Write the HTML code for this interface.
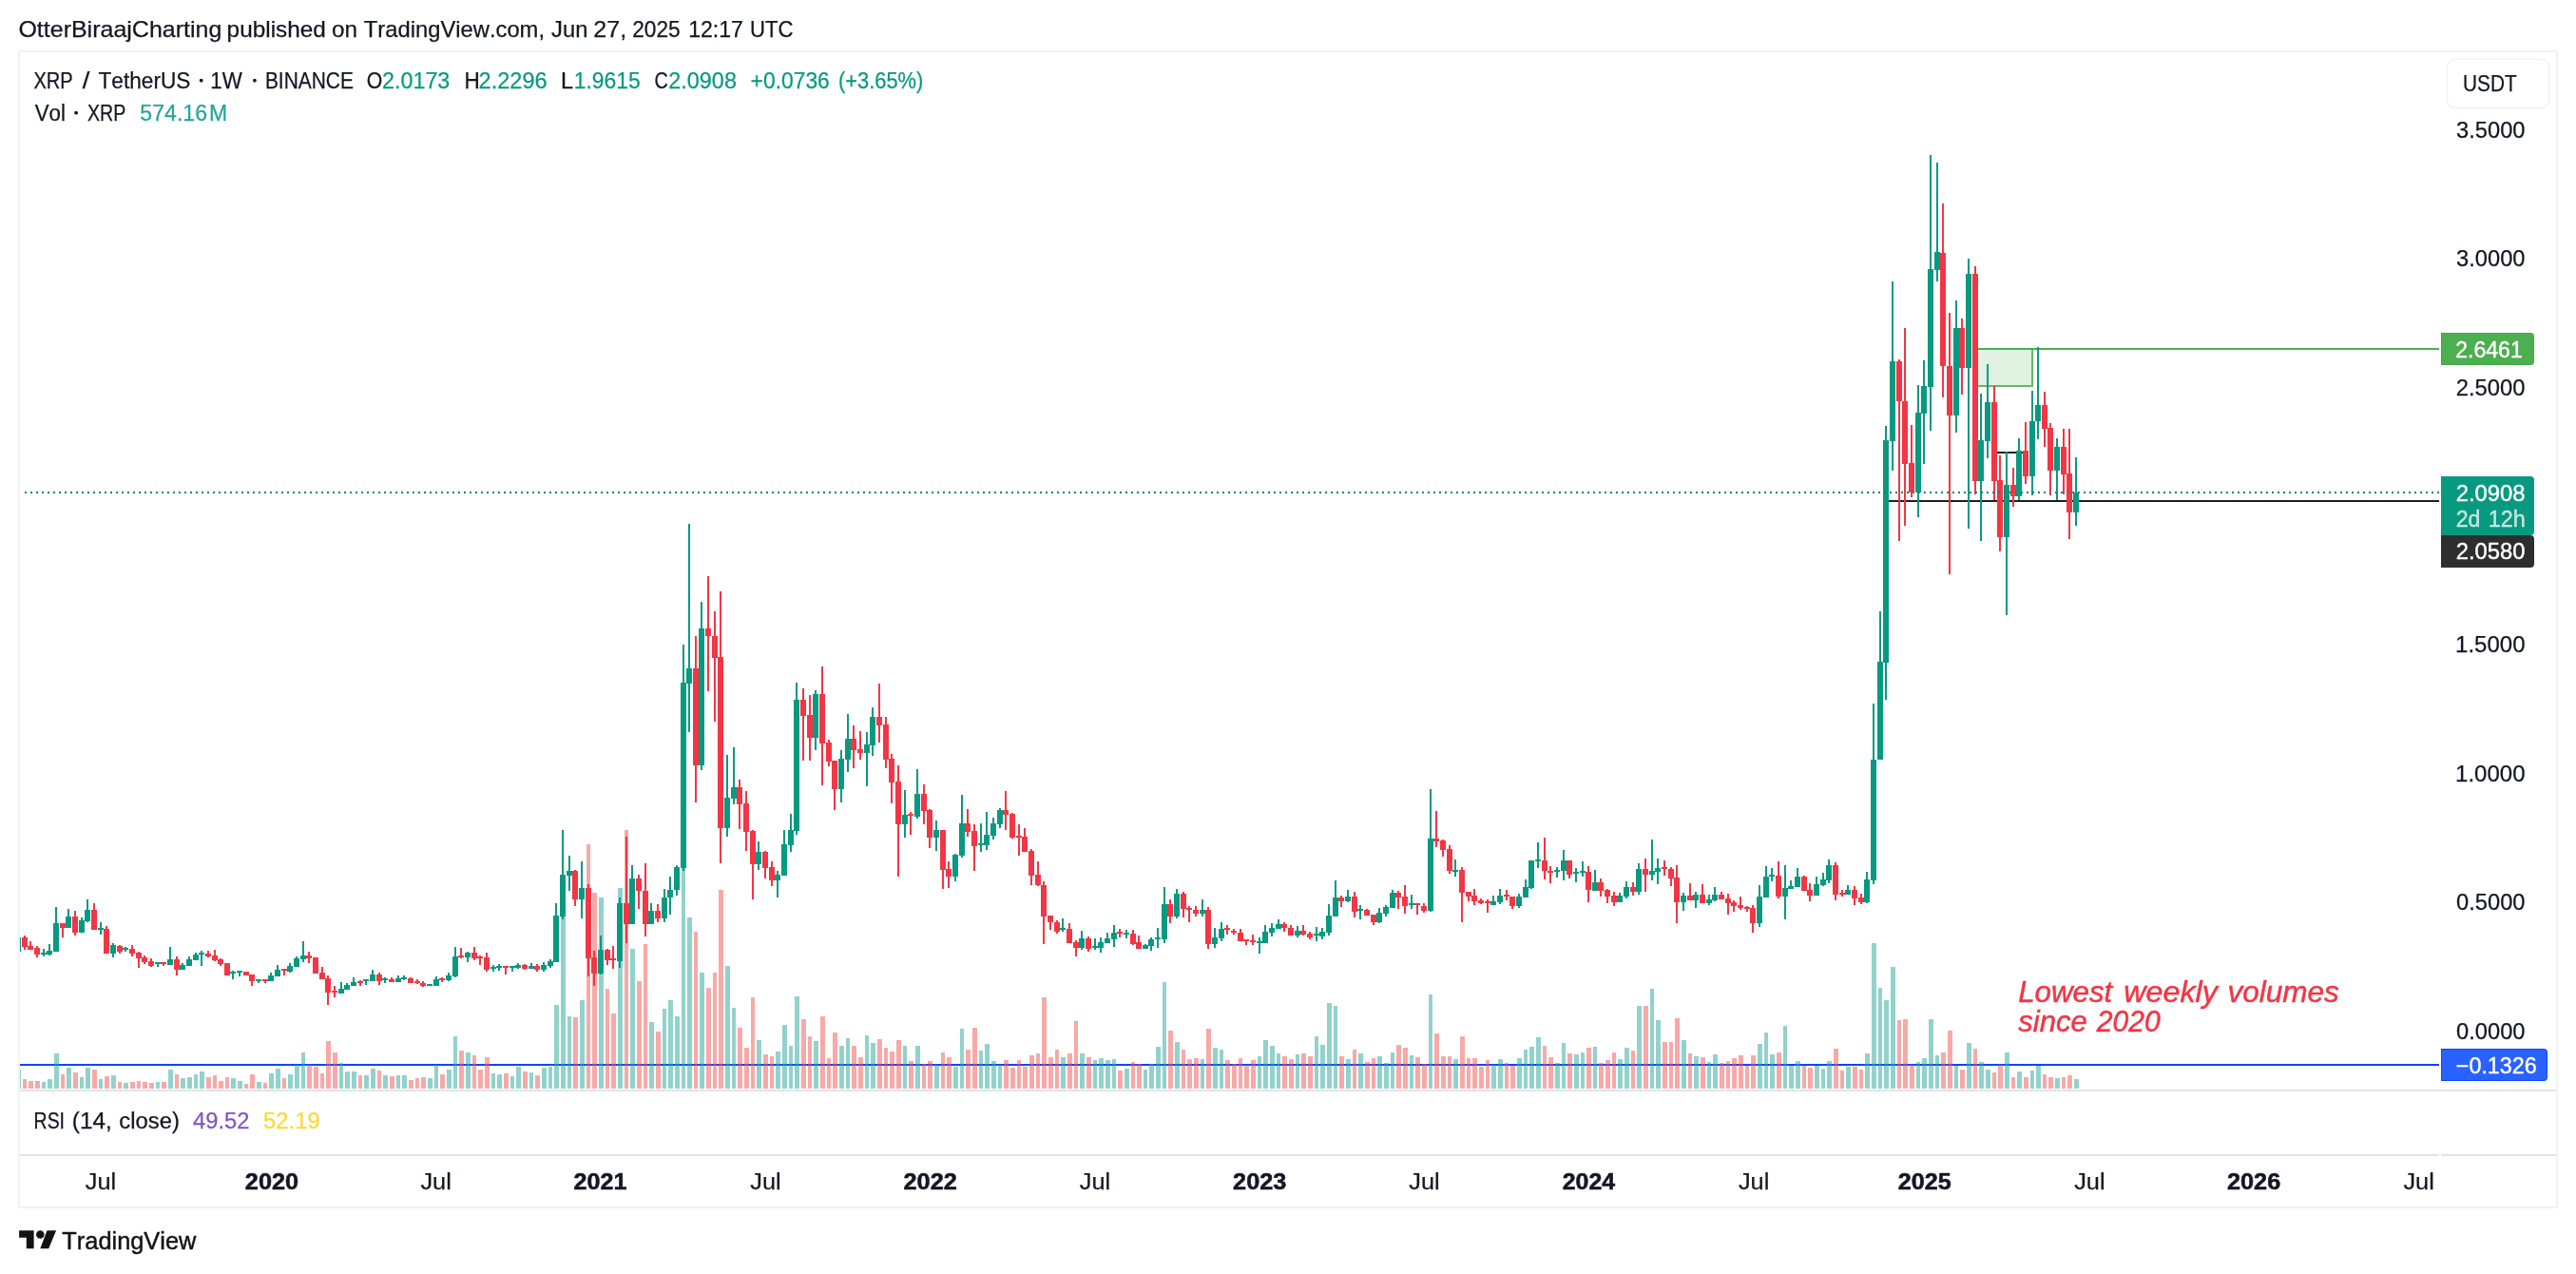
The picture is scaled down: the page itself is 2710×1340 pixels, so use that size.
<!DOCTYPE html><html><head><meta charset="utf-8"><title>XRP / TetherUS 1W</title>
<style>html,body{margin:0;padding:0;background:#fff}body{width:2710px;height:1340px;overflow:hidden;position:relative;font-family:"Liberation Sans", sans-serif}svg{position:absolute;left:0;top:0;display:block}text{font-family:"Liberation Sans", sans-serif;font-kerning:none}</style></head><body>
<svg width="2710" height="1340" viewBox="0 0 2710 1340">
<rect x="0" y="0" width="2710" height="1340" fill="#fff"/>
<g shape-rendering="crispEdges">
<clipPath id="pane"><rect x="21" y="55" width="2545" height="1091"/></clipPath>
<g clip-path="url(#pane)">
<path fill="#0a46ff" d="M21 1119H2566v2H21z"/>
<path fill="rgba(38,166,154,0.5)" d="M17 1125h5V1145h-5zM44 1138h4V1145h-4zM50 1135h5V1145h-5zM57 1108h5V1145h-5zM70 1123h5V1145h-5zM84 1133h4V1145h-4zM90 1123h5V1145h-5zM104 1135h4V1145h-4zM117 1131h5V1145h-5zM130 1139h5V1145h-5zM164 1138h4V1145h-4zM177 1125h5V1145h-5zM190 1134h5V1145h-5zM197 1133h5V1145h-5zM204 1130h4V1145h-4zM210 1127h5V1145h-5zM243 1134h5V1145h-5zM250 1137h5V1145h-5zM270 1138h5V1145h-5zM283 1129h5V1145h-5zM290 1124h5V1145h-5zM303 1130h5V1145h-5zM310 1120h5V1145h-5zM317 1107h4V1145h-4zM357 1118h4V1145h-4zM363 1127h5V1145h-5zM370 1127h5V1145h-5zM383 1131h5V1145h-5zM390 1124h5V1145h-5zM403 1131h5V1145h-5zM417 1131h4V1145h-4zM423 1131h5V1145h-5zM450 1134h5V1145h-5zM457 1120h4V1145h-4zM470 1125h5V1145h-5zM477 1090h4V1145h-4zM490 1107h5V1145h-5zM517 1129h4V1145h-4zM523 1130h5V1145h-5zM537 1132h4V1145h-4zM543 1122h5V1145h-5zM557 1128h4V1145h-4zM570 1123h5V1145h-5zM577 1122h4V1145h-4zM583 1057h5V1145h-5zM590 930h5V1145h-5zM597 1069h4V1145h-4zM610 1052h5V1145h-5zM630 944h5V1145h-5zM650 934h5V1145h-5zM663 998h5V1145h-5zM683 1075h5V1145h-5zM697 1061h4V1145h-4zM703 1052h5V1145h-5zM710 1069h5V1145h-5zM717 880h4V1145h-4zM723 965h5V1145h-5zM736 1023h5V1145h-5zM763 1016h5V1145h-5zM770 1060h4V1145h-4zM796 1094h5V1145h-5zM816 1106h5V1145h-5zM823 1078h5V1145h-5zM830 1100h4V1145h-4zM836 1048h5V1145h-5zM856 1095h5V1145h-5zM883 1100h5V1145h-5zM890 1092h4V1145h-4zM910 1089h4V1145h-4zM916 1097h5V1145h-5zM950 1100h4V1145h-4zM963 1100h5V1145h-5zM983 1120h5V1145h-5zM1003 1122h5V1145h-5zM1010 1082h4V1145h-4zM1030 1105h4V1145h-4zM1036 1098h5V1145h-5zM1043 1116h5V1145h-5zM1050 1120h4V1145h-4zM1116 1112h5V1145h-5zM1136 1108h5V1145h-5zM1150 1115h4V1145h-4zM1156 1113h5V1145h-5zM1163 1115h5V1145h-5zM1170 1114h4V1145h-4zM1183 1124h5V1145h-5zM1203 1125h4V1145h-4zM1209 1119h5V1145h-5zM1216 1101h5V1145h-5zM1223 1033h4V1145h-4zM1236 1096h5V1145h-5zM1263 1114h4V1145h-4zM1276 1102h5V1145h-5zM1283 1104h4V1145h-4zM1323 1111h4V1145h-4zM1329 1094h5V1145h-5zM1336 1100h5V1145h-5zM1343 1108h4V1145h-4zM1363 1109h4V1145h-4zM1383 1090h4V1145h-4zM1389 1099h5V1145h-5zM1396 1055h5V1145h-5zM1403 1058h4V1145h-4zM1416 1114h5V1145h-5zM1429 1108h5V1145h-5zM1449 1111h5V1145h-5zM1456 1118h5V1145h-5zM1463 1107h4V1145h-4zM1483 1110h4V1145h-4zM1503 1046h4V1145h-4zM1529 1114h5V1145h-5zM1569 1120h5V1145h-5zM1576 1114h5V1145h-5zM1596 1113h5V1145h-5zM1603 1104h4V1145h-4zM1609 1101h5V1145h-5zM1616 1091h5V1145h-5zM1636 1118h5V1145h-5zM1643 1097h4V1145h-4zM1656 1109h5V1145h-5zM1663 1107h4V1145h-4zM1676 1101h4V1145h-4zM1702 1114h5V1145h-5zM1709 1102h5V1145h-5zM1722 1058h5V1145h-5zM1736 1040h4V1145h-4zM1742 1073h5V1145h-5zM1769 1094h5V1145h-5zM1782 1111h5V1145h-5zM1796 1117h4V1145h-4zM1802 1109h5V1145h-5zM1849 1098h5V1145h-5zM1856 1086h4V1145h-4zM1862 1109h5V1145h-5zM1876 1079h4V1145h-4zM1882 1121h5V1145h-5zM1889 1116h5V1145h-5zM1909 1121h5V1145h-5zM1916 1124h4V1145h-4zM1922 1116h5V1145h-5zM1942 1122h5V1145h-5zM1962 1108h5V1145h-5zM1969 992h5V1145h-5zM1976 1039h4V1145h-4zM1982 1052h5V1145h-5zM1989 1017h5V1145h-5zM2016 1117h4V1145h-4zM2022 1113h5V1145h-5zM2029 1072h5V1145h-5zM2036 1110h4V1145h-4zM2056 1121h4V1145h-4zM2069 1097h5V1145h-5zM2082 1117h5V1145h-5zM2089 1125h5V1145h-5zM2109 1107h5V1145h-5zM2122 1127h5V1145h-5zM2136 1126h4V1145h-4zM2142 1121h5V1145h-5zM2162 1134h5V1145h-5zM2182 1135h5V1145h-5z"/>
<path fill="rgba(239,83,80,0.5)" d="M24 1135h4V1145h-4zM30 1137h5V1145h-5zM37 1137h5V1145h-5zM64 1130h4V1145h-4zM77 1128h5V1145h-5zM97 1125h5V1145h-5zM110 1132h5V1145h-5zM124 1138h4V1145h-4zM137 1138h5V1145h-5zM144 1137h4V1145h-4zM150 1138h5V1145h-5zM157 1139h5V1145h-5zM170 1138h5V1145h-5zM184 1130h4V1145h-4zM217 1133h5V1145h-5zM224 1131h4V1145h-4zM230 1137h5V1145h-5zM237 1133h4V1145h-4zM257 1140h4V1145h-4zM263 1130h5V1145h-5zM277 1139h4V1145h-4zM297 1134h4V1145h-4zM323 1120h5V1145h-5zM330 1122h5V1145h-5zM337 1129h4V1145h-4zM343 1095h5V1145h-5zM350 1107h5V1145h-5zM377 1131h4V1145h-4zM397 1126h4V1145h-4zM410 1132h5V1145h-5zM430 1136h5V1145h-5zM437 1134h4V1145h-4zM443 1133h5V1145h-5zM463 1130h5V1145h-5zM483 1105h5V1145h-5zM497 1110h4V1145h-4zM503 1125h5V1145h-5zM510 1112h5V1145h-5zM530 1129h5V1145h-5zM550 1127h5V1145h-5zM563 1131h5V1145h-5zM603 1070h5V1145h-5zM617 888h4V1145h-4zM623 939h5V1145h-5zM637 1040h4V1145h-4zM643 1066h5V1145h-5zM657 873h4V1145h-4zM670 1032h5V1145h-5zM677 993h4V1145h-4zM690 1085h5V1145h-5zM730 980h4V1145h-4zM743 1039h5V1145h-5zM750 1023h4V1145h-4zM756 936h5V1145h-5zM776 1081h5V1145h-5zM783 1102h5V1145h-5zM790 1049h4V1145h-4zM803 1109h5V1145h-5zM810 1111h4V1145h-4zM843 1072h5V1145h-5zM850 1090h4V1145h-4zM863 1069h5V1145h-5zM870 1113h4V1145h-4zM876 1086h5V1145h-5zM896 1100h5V1145h-5zM903 1112h5V1145h-5zM923 1093h5V1145h-5zM930 1102h4V1145h-4zM936 1106h5V1145h-5zM943 1094h5V1145h-5zM956 1116h5V1145h-5zM970 1119h4V1145h-4zM976 1116h5V1145h-5zM990 1107h4V1145h-4zM996 1112h5V1145h-5zM1016 1104h5V1145h-5zM1023 1081h5V1145h-5zM1056 1115h5V1145h-5zM1063 1123h5V1145h-5zM1070 1115h4V1145h-4zM1076 1122h5V1145h-5zM1083 1110h5V1145h-5zM1090 1108h4V1145h-4zM1096 1049h5V1145h-5zM1103 1112h5V1145h-5zM1110 1104h4V1145h-4zM1123 1108h5V1145h-5zM1130 1074h4V1145h-4zM1143 1112h5V1145h-5zM1176 1126h5V1145h-5zM1190 1117h4V1145h-4zM1196 1119h5V1145h-5zM1229 1084h5V1145h-5zM1243 1104h4V1145h-4zM1249 1114h5V1145h-5zM1256 1113h5V1145h-5zM1269 1082h5V1145h-5zM1289 1115h5V1145h-5zM1296 1119h5V1145h-5zM1303 1113h4V1145h-4zM1309 1120h5V1145h-5zM1316 1115h5V1145h-5zM1349 1111h5V1145h-5zM1356 1114h5V1145h-5zM1369 1108h5V1145h-5zM1376 1111h5V1145h-5zM1409 1111h5V1145h-5zM1423 1104h4V1145h-4zM1436 1117h5V1145h-5zM1443 1113h4V1145h-4zM1469 1099h5V1145h-5zM1476 1102h5V1145h-5zM1489 1112h5V1145h-5zM1496 1119h5V1145h-5zM1509 1087h5V1145h-5zM1516 1111h5V1145h-5zM1523 1111h4V1145h-4zM1536 1090h5V1145h-5zM1543 1113h4V1145h-4zM1549 1113h5V1145h-5zM1556 1122h5V1145h-5zM1563 1115h4V1145h-4zM1583 1118h4V1145h-4zM1589 1121h5V1145h-5zM1623 1100h4V1145h-4zM1629 1112h5V1145h-5zM1649 1108h5V1145h-5zM1669 1102h5V1145h-5zM1682 1118h5V1145h-5zM1689 1115h5V1145h-5zM1696 1107h4V1145h-4zM1716 1105h4V1145h-4zM1729 1058h5V1145h-5zM1749 1096h5V1145h-5zM1756 1096h4V1145h-4zM1762 1071h5V1145h-5zM1776 1108h4V1145h-4zM1789 1112h5V1145h-5zM1809 1118h5V1145h-5zM1816 1116h4V1145h-4zM1822 1113h5V1145h-5zM1829 1110h5V1145h-5zM1836 1121h4V1145h-4zM1842 1110h5V1145h-5zM1869 1107h5V1145h-5zM1896 1121h4V1145h-4zM1902 1123h5V1145h-5zM1929 1103h5V1145h-5zM1936 1126h4V1145h-4zM1949 1122h5V1145h-5zM1956 1125h4V1145h-4zM1996 1073h4V1145h-4zM2002 1072h5V1145h-5zM2009 1120h5V1145h-5zM2042 1107h5V1145h-5zM2049 1084h5V1145h-5zM2062 1125h5V1145h-5zM2076 1103h4V1145h-4zM2096 1128h4V1145h-4zM2102 1120h5V1145h-5zM2116 1133h4V1145h-4zM2129 1133h5V1145h-5zM2149 1130h4V1145h-4zM2155 1133h5V1145h-5zM2169 1133h4V1145h-4zM2175 1131h5V1145h-5z"/>
<rect x="2081" y="367" width="58" height="40" fill="#e1f1e2"/>
<path fill="#4caf50" d="M2081 366H2566v2H2081z"/>
<path fill="#62b966" d="M2081 405h58v2h-58z"/>
<path fill="#62b966" d="M2137 368h2v39h-2z"/>
<path fill="#1e1e1e" d="M1987 526H2566v2H1987z"/>
<path fill="#1e1e1e" d="M2101 475h27v2h-27z"/>
<path fill="#089981" d="M18 986h2V1001h-2zM16 986h6V1001h-6zM45 998h2V1006h-2zM43 1002h6V1004h-6zM51 993h2V1005h-2zM49 1000h6V1004h-6zM58 954h2V1001h-2zM56 971h6V1001h-6zM71 956h2V976h-2zM69 964h6V976h-6zM85 965h2V981h-2zM83 968h6V981h-6zM91 946h2V970h-2zM89 957h6V969h-6zM105 970h2V983h-2zM103 976h6V978h-6zM118 992h2V1007h-2zM116 994h6V1003h-6zM131 996h2V1001h-2zM129 997h6V999h-6zM165 1012h2V1017h-2zM163 1012h6V1014h-6zM178 996h2V1015h-2zM176 1009h6V1015h-6zM191 1013h2V1020h-2zM189 1015h6V1020h-6zM198 1006h2V1016h-2zM196 1009h6V1016h-6zM205 1002h2V1010h-2zM203 1004h6V1010h-6zM211 1000h2V1016h-2zM209 1002h6V1004h-6zM244 1021h2V1030h-2zM242 1022h6V1024h-6zM251 1021h2V1027h-2zM249 1021h6V1023h-6zM271 1030h2V1034h-2zM269 1030h6V1032h-6zM284 1023h2V1032h-2zM282 1026h6V1032h-6zM291 1015h2V1027h-2zM289 1020h6V1027h-6zM304 1013h2V1023h-2zM302 1016h6V1022h-6zM311 1006h2V1017h-2zM309 1008h6V1017h-6zM318 990h2V1012h-2zM316 1005h6V1009h-6zM358 1033h2V1045h-2zM356 1040h6V1045h-6zM364 1034h2V1041h-2zM362 1036h6V1041h-6zM371 1028h2V1037h-2zM369 1033h6V1037h-6zM384 1030h2V1036h-2zM382 1030h6V1032h-6zM391 1020h2V1032h-2zM389 1025h6V1032h-6zM404 1028h2V1034h-2zM402 1029h6V1031h-6zM418 1026h2V1033h-2zM416 1029h6V1033h-6zM424 1026h2V1031h-2zM422 1028h6V1030h-6zM451 1035h2V1037h-2zM449 1035h6V1037h-6zM458 1027h2V1037h-2zM456 1030h6V1037h-6zM471 1023h2V1032h-2zM469 1026h6V1031h-6zM478 996h2V1028h-2zM476 1006h6V1027h-6zM491 1001h2V1012h-2zM489 1002h6V1007h-6zM518 1015h2V1022h-2zM516 1017h6V1019h-6zM524 1014h2V1021h-2zM522 1016h6V1018h-6zM538 1016h2V1022h-2zM536 1016h6V1018h-6zM544 1013h2V1019h-2zM542 1015h6V1018h-6zM558 1013h2V1019h-2zM556 1016h6V1019h-6zM571 1012h2V1022h-2zM569 1015h6V1020h-6zM578 1009h2V1018h-2zM576 1011h6V1016h-6zM584 950h2V1012h-2zM582 963h6V1012h-6zM591 873h2V967h-2zM589 920h6V964h-6zM598 900h2V937h-2zM596 916h6V921h-6zM611 906h2V966h-2zM609 934h6V946h-6zM631 984h2V1025h-2zM629 999h6V1024h-6zM651 944h2V1018h-2zM649 950h6V1011h-6zM664 910h2V972h-2zM662 924h6V972h-6zM684 950h2V972h-2zM682 958h6V972h-6zM698 935h2V970h-2zM696 944h6V966h-6zM704 922h2V962h-2zM702 936h6V944h-6zM711 910h2V942h-2zM709 912h6V936h-6zM718 678h2V916h-2zM716 718h6V913h-6zM724 551h2V770h-2zM722 703h6V719h-6zM737 633h2V810h-2zM735 661h6V805h-6zM764 794h2V880h-2zM762 839h6V871h-6zM771 786h2V846h-2zM769 828h6V840h-6zM797 885h2V915h-2zM795 896h6V909h-6zM817 916h2V944h-2zM815 920h6V926h-6zM824 873h2V921h-2zM822 888h6V921h-6zM831 856h2V896h-2zM829 873h6V889h-6zM837 718h2V878h-2zM835 736h6V874h-6zM857 726h2V789h-2zM855 730h6V776h-6zM884 789h2V844h-2zM882 798h6V830h-6zM891 751h2V812h-2zM889 777h6V799h-6zM911 770h2V827h-2zM909 783h6V792h-6zM917 744h2V795h-2zM915 754h6V784h-6zM951 831h2V881h-2zM949 857h6V867h-6zM964 809h2V861h-2zM962 835h6V859h-6zM984 863h2V895h-2zM982 873h6V881h-6zM1004 898h2V927h-2zM1002 899h6V922h-6zM1011 836h2V902h-2zM1009 866h6V900h-6zM1031 866h2V896h-2zM1029 887h6V889h-6zM1037 854h2V894h-2zM1035 878h6V889h-6zM1044 860h2V883h-2zM1042 866h6V879h-6zM1051 850h2V871h-2zM1049 852h6V867h-6zM1117 966h2V980h-2zM1115 976h6V978h-6zM1137 979h2V999h-2zM1135 987h6V997h-6zM1151 987h2V999h-2zM1149 995h6V997h-6zM1157 986h2V1002h-2zM1155 991h6V997h-6zM1164 981h2V992h-2zM1162 987h6V992h-6zM1171 973h2V996h-2zM1169 981h6V988h-6zM1184 978h2V987h-2zM1182 981h6V983h-6zM1204 993h2V998h-2zM1202 994h6V998h-6zM1210 986h2V1000h-2zM1208 988h6V995h-6zM1217 976h2V997h-2zM1215 986h6V988h-6zM1224 933h2V992h-2zM1222 951h6V988h-6zM1237 935h2V966h-2zM1235 940h6V964h-6zM1264 946h2V964h-2zM1262 957h6V961h-6zM1277 976h2V997h-2zM1275 986h6V993h-6zM1284 970h2V990h-2zM1282 977h6V987h-6zM1324 986h2V1003h-2zM1322 990h6V992h-6zM1330 973h2V992h-2zM1328 980h6V992h-6zM1337 971h2V985h-2zM1335 976h6V981h-6zM1344 967h2V977h-2zM1342 972h6V977h-6zM1364 974h2V986h-2zM1362 979h6V984h-6zM1384 975h2V990h-2zM1382 982h6V984h-6zM1390 976h2V988h-2zM1388 980h6V985h-6zM1397 951h2V984h-2zM1395 963h6V981h-6zM1404 926h2V964h-2zM1402 944h6V964h-6zM1417 936h2V949h-2zM1415 943h6V948h-6zM1430 952h2V967h-2zM1428 956h6V958h-6zM1450 955h2V971h-2zM1448 960h6V970h-6zM1457 952h2V964h-2zM1455 954h6V961h-6zM1464 936h2V955h-2zM1462 939h6V955h-6zM1484 941h2V956h-2zM1482 950h6V952h-6zM1504 830h2V959h-2zM1502 882h6V958h-6zM1530 904h2V922h-2zM1528 915h6V917h-6zM1570 942h2V952h-2zM1568 948h6V952h-6zM1577 935h2V951h-2zM1575 942h6V949h-6zM1597 940h2V955h-2zM1595 943h6V953h-6zM1604 925h2V944h-2zM1602 933h6V944h-6zM1610 905h2V935h-2zM1608 905h6V934h-6zM1617 886h2V913h-2zM1615 904h6V906h-6zM1637 912h2V923h-2zM1635 915h6V917h-6zM1644 894h2V926h-2zM1642 905h6V916h-6zM1657 913h2V928h-2zM1655 917h6V919h-6zM1664 906h2V922h-2zM1662 916h6V918h-6zM1677 915h2V937h-2zM1675 928h6V937h-6zM1703 939h2V949h-2zM1701 942h6V949h-6zM1710 927h2V945h-2zM1708 933h6V943h-6zM1723 908h2V941h-2zM1721 914h6V938h-6zM1737 883h2V926h-2zM1735 916h6V920h-6zM1743 903h2V930h-2zM1741 913h6V917h-6zM1770 939h2V958h-2zM1768 942h6V949h-6zM1783 938h2V955h-2zM1781 941h6V947h-6zM1797 941h2V952h-2zM1795 946h6V950h-6zM1803 933h2V948h-2zM1801 941h6V947h-6zM1850 931h2V975h-2zM1848 943h6V971h-6zM1857 911h2V944h-2zM1855 922h6V944h-6zM1863 913h2V927h-2zM1861 920h6V922h-6zM1877 910h2V967h-2zM1875 934h6V943h-6zM1883 926h2V935h-2zM1881 932h6V935h-6zM1890 913h2V933h-2zM1888 922h6V933h-6zM1910 922h2V942h-2zM1908 930h6V942h-6zM1917 918h2V932h-2zM1915 925h6V931h-6zM1923 904h2V929h-2zM1921 910h6V926h-6zM1943 931h2V941h-2zM1941 936h6V941h-6zM1963 917h2V950h-2zM1961 925h6V949h-6zM1970 740h2V930h-2zM1968 799h6V926h-6zM1977 643h2V799h-2zM1975 696h6V799h-6zM1983 448h2V736h-2zM1981 463h6V697h-6zM1990 296h2V495h-2zM1988 380h6V464h-6zM2017 405h2V544h-2zM2015 434h6V518h-6zM2023 379h2V488h-2zM2021 406h6V435h-6zM2030 163h2V453h-2zM2028 283h6V407h-6zM2037 171h2V296h-2zM2035 265h6V284h-6zM2057 316h2V455h-2zM2055 345h6V437h-6zM2070 272h2V556h-2zM2068 288h6V387h-6zM2083 414h2V569h-2zM2081 463h6V506h-6zM2090 383h2V482h-2zM2088 423h6V464h-6zM2110 475h2V647h-2zM2108 510h6V565h-6zM2123 461h2V526h-2zM2121 474h6V522h-6zM2137 411h2V521h-2zM2135 443h6V501h-6zM2143 365h2V462h-2zM2141 426h6V443h-6zM2163 461h2V526h-2zM2161 470h6V495h-6zM2183 481h2V553h-2zM2181 518h6V539h-6z"/>
<path fill="#f23645" d="M25 984h2V999h-2zM23 986h6V996h-6zM31 990h2V999h-2zM29 995h6V999h-6zM38 995h2V1007h-2zM36 997h6V1004h-6zM65 971h2V986h-2zM63 971h6V976h-6zM78 958h2V984h-2zM76 964h6V981h-6zM98 950h2V978h-2zM96 957h6V978h-6zM111 974h2V1003h-2zM109 977h6V1003h-6zM125 994h2V1003h-2zM123 995h6V1001h-6zM138 994h2V1006h-2zM136 998h6V1003h-6zM145 1001h2V1018h-2zM143 1002h6V1008h-6zM151 1005h2V1014h-2zM149 1007h6V1012h-6zM158 1008h2V1017h-2zM156 1011h6V1016h-6zM171 1012h2V1016h-2zM169 1012h6V1014h-6zM185 1006h2V1026h-2zM183 1009h6V1020h-6zM218 1000h2V1007h-2zM216 1003h6V1006h-6zM225 999h2V1011h-2zM223 1005h6V1010h-6zM231 1008h2V1016h-2zM229 1009h6V1014h-6zM238 1013h2V1026h-2zM236 1013h6V1026h-6zM258 1022h2V1026h-2zM256 1022h6V1026h-6zM264 1025h2V1037h-2zM262 1025h6V1032h-6zM278 1030h2V1034h-2zM276 1030h6V1032h-6zM298 1019h2V1026h-2zM296 1019h6V1021h-6zM324 1001h2V1013h-2zM322 1005h6V1008h-6zM331 1007h2V1024h-2zM329 1007h6V1024h-6zM338 1017h2V1030h-2zM336 1023h6V1030h-6zM344 1026h2V1057h-2zM342 1029h6V1044h-6zM351 1037h2V1049h-2zM349 1042h6V1044h-6zM378 1031h2V1037h-2zM376 1032h6V1034h-6zM398 1023h2V1036h-2zM396 1025h6V1032h-6zM411 1028h2V1033h-2zM409 1030h6V1033h-6zM431 1028h2V1034h-2zM429 1029h6V1034h-6zM438 1030h2V1035h-2zM436 1032h6V1034h-6zM444 1032h2V1038h-2zM442 1034h6V1037h-6zM464 1028h2V1033h-2zM462 1029h6V1031h-6zM484 997h2V1008h-2zM482 1005h6V1007h-6zM498 996h2V1010h-2zM496 1002h6V1008h-6zM504 1005h2V1015h-2zM502 1006h6V1008h-6zM511 1002h2V1022h-2zM509 1007h6V1020h-6zM531 1016h2V1025h-2zM529 1016h6V1018h-6zM551 1014h2V1020h-2zM549 1015h6V1019h-6zM564 1014h2V1022h-2zM562 1016h6V1020h-6zM604 915h2V953h-2zM602 916h6V946h-6zM618 930h2V1027h-2zM616 934h6V1008h-6zM624 1000h2V1037h-2zM622 1007h6V1024h-6zM638 998h2V1015h-2zM636 999h6V1010h-6zM644 995h2V1019h-2zM642 1008h6V1010h-6zM658 880h2V992h-2zM656 950h6V972h-6zM671 920h2V956h-2zM669 924h6V937h-6zM678 908h2V985h-2zM676 937h6V972h-6zM691 951h2V970h-2zM689 958h6V966h-6zM731 669h2V844h-2zM729 703h6V805h-6zM744 606h2V727h-2zM742 661h6V669h-6zM751 643h2V759h-2zM749 669h6V692h-6zM757 622h2V908h-2zM755 691h6V871h-6zM777 820h2V872h-2zM775 828h6V846h-6zM784 832h2V895h-2zM782 845h6V875h-6zM791 873h2V946h-2zM789 874h6V909h-6zM804 895h2V924h-2zM802 896h6V913h-6zM811 906h2V932h-2zM809 912h6V926h-6zM844 724h2V800h-2zM842 736h6V753h-6zM851 731h2V800h-2zM849 752h6V776h-6zM864 701h2V826h-2zM862 730h6V782h-6zM871 778h2V806h-2zM869 781h6V801h-6zM877 800h2V852h-2zM875 800h6V830h-6zM897 763h2V808h-2zM895 777h6V789h-6zM904 769h2V799h-2zM902 788h6V792h-6zM924 719h2V781h-2zM922 754h6V763h-6zM931 754h2V808h-2zM929 762h6V799h-6zM937 793h2V845h-2zM935 798h6V823h-6zM944 805h2V922h-2zM942 822h6V867h-6zM957 854h2V878h-2zM955 856h6V858h-6zM971 825h2V867h-2zM969 835h6V853h-6zM977 851h2V892h-2zM975 852h6V881h-6zM991 873h2V935h-2zM989 873h6V915h-6zM997 906h2V934h-2zM995 914h6V922h-6zM1017 851h2V880h-2zM1015 866h6V875h-6zM1024 867h2V916h-2zM1022 874h6V890h-6zM1057 832h2V873h-2zM1055 852h6V857h-6zM1064 855h2V882h-2zM1062 856h6V881h-6zM1071 867h2V900h-2zM1069 879h6V881h-6zM1077 871h2V896h-2zM1075 880h6V896h-6zM1084 893h2V931h-2zM1082 895h6V921h-6zM1091 906h2V932h-2zM1089 920h6V931h-6zM1097 927h2V993h-2zM1095 931h6V964h-6zM1104 963h2V978h-2zM1102 963h6V970h-6zM1111 968h2V982h-2zM1109 970h6V980h-6zM1124 971h2V992h-2zM1122 977h6V992h-6zM1131 989h2V1006h-2zM1129 991h6V997h-6zM1144 985h2V1001h-2zM1142 987h6V998h-6zM1177 977h2V986h-2zM1175 980h6V982h-6zM1191 978h2V994h-2zM1189 982h6V993h-6zM1197 984h2V998h-2zM1195 991h6V998h-6zM1230 946h2V971h-2zM1228 951h6V964h-6zM1244 938h2V965h-2zM1242 940h6V956h-6zM1250 953h2V970h-2zM1248 955h6V957h-6zM1257 953h2V964h-2zM1255 957h6V961h-6zM1270 954h2V998h-2zM1268 957h6V993h-6zM1290 973h2V983h-2zM1288 976h6V978h-6zM1297 977h2V983h-2zM1295 979h6V981h-6zM1304 977h2V990h-2zM1302 981h6V990h-6zM1310 988h2V994h-2zM1308 988h6V990h-6zM1317 983h2V994h-2zM1315 989h6V991h-6zM1350 970h2V980h-2zM1348 972h6V976h-6zM1357 973h2V984h-2zM1355 976h6V984h-6zM1370 973h2V984h-2zM1368 979h6V983h-6zM1377 980h2V988h-2zM1375 982h6V986h-6zM1410 942h2V954h-2zM1408 944h6V948h-6zM1424 938h2V965h-2zM1422 943h6V959h-6zM1437 956h2V963h-2zM1435 957h6V963h-6zM1444 962h2V973h-2zM1442 962h6V970h-6zM1470 937h2V956h-2zM1468 939h6V944h-6zM1477 931h2V961h-2zM1475 943h6V953h-6zM1490 950h2V962h-2zM1488 950h6V952h-6zM1497 950h2V960h-2zM1495 953h6V958h-6zM1510 853h2V891h-2zM1508 882h6V885h-6zM1517 883h2V901h-2zM1515 884h6V894h-6zM1524 889h2V919h-2zM1522 893h6V916h-6zM1537 912h2V970h-2zM1535 915h6V939h-6zM1544 938h2V948h-2zM1542 938h6V943h-6zM1550 935h2V952h-2zM1548 942h6V948h-6zM1557 945h2V951h-2zM1555 947h6V950h-6zM1564 946h2V960h-2zM1562 948h6V950h-6zM1584 936h2V947h-2zM1582 941h6V943h-6zM1590 943h2V956h-2zM1588 943h6V953h-6zM1624 881h2V925h-2zM1622 905h6V916h-6zM1630 911h2V929h-2zM1628 916h6V918h-6zM1650 905h2V924h-2zM1648 905h6V920h-6zM1670 911h2V949h-2zM1668 917h6V936h-6zM1683 924h2V943h-2zM1681 928h6V937h-6zM1690 935h2V950h-2zM1688 936h6V943h-6zM1697 938h2V953h-2zM1695 942h6V949h-6zM1717 928h2V942h-2zM1715 933h6V938h-6zM1730 903h2V938h-2zM1728 914h6V920h-6zM1750 905h2V921h-2zM1748 912h6V914h-6zM1757 912h2V932h-2zM1755 914h6V924h-6zM1763 910h2V971h-2zM1761 923h6V949h-6zM1777 929h2V947h-2zM1775 942h6V947h-6zM1790 930h2V950h-2zM1788 941h6V950h-6zM1810 938h2V946h-2zM1808 941h6V946h-6zM1817 940h2V962h-2zM1815 945h6V950h-6zM1823 947h2V959h-2zM1821 949h6V953h-6zM1830 943h2V957h-2zM1828 952h6V955h-6zM1837 953h2V959h-2zM1835 954h6V956h-6zM1843 952h2V981h-2zM1841 955h6V971h-6zM1870 906h2V945h-2zM1868 921h6V943h-6zM1897 921h2V937h-2zM1895 922h6V937h-6zM1903 929h2V948h-2zM1901 936h6V942h-6zM1930 907h2V947h-2zM1928 910h6V941h-6zM1937 936h2V943h-2zM1935 939h6V941h-6zM1950 932h2V952h-2zM1948 936h6V945h-6zM1957 940h2V951h-2zM1955 944h6V949h-6zM1997 378h2V569h-2zM1995 380h6V422h-6zM2003 345h2V553h-2zM2001 422h6V488h-6zM2010 447h2V523h-2zM2008 487h6V518h-6zM2043 214h2V418h-2zM2041 266h6V385h-6zM2050 329h2V604h-2zM2048 385h6V437h-6zM2063 335h2V415h-2zM2061 345h6V387h-6zM2077 280h2V520h-2zM2075 288h6V506h-6zM2097 406h2V526h-2zM2095 423h6V506h-6zM2103 479h2V580h-2zM2101 505h6V565h-6zM2117 492h2V533h-2zM2115 510h6V522h-6zM2130 444h2V509h-2zM2128 474h6V501h-6zM2150 412h2V470h-2zM2148 426h6V451h-6zM2156 445h2V521h-2zM2154 450h6V495h-6zM2170 451h2V520h-2zM2168 470h6V499h-6zM2176 451h2V567h-2zM2174 498h6V539h-6z"/>
<path fill="#04876c" d="M26 517h2v2h-2zM32 517h2v2h-2zM38 517h2v2h-2zM44 517h2v2h-2zM50 517h2v2h-2zM56 517h2v2h-2zM62 517h2v2h-2zM68 517h2v2h-2zM74 517h2v2h-2zM80 517h2v2h-2zM86 517h2v2h-2zM92 517h2v2h-2zM98 517h2v2h-2zM104 517h2v2h-2zM110 517h2v2h-2zM116 517h2v2h-2zM122 517h2v2h-2zM128 517h2v2h-2zM134 517h2v2h-2zM140 517h2v2h-2zM146 517h2v2h-2zM152 517h2v2h-2zM158 517h2v2h-2zM164 517h2v2h-2zM170 517h2v2h-2zM176 517h2v2h-2zM182 517h2v2h-2zM188 517h2v2h-2zM194 517h2v2h-2zM200 517h2v2h-2zM206 517h2v2h-2zM212 517h2v2h-2zM218 517h2v2h-2zM224 517h2v2h-2zM230 517h2v2h-2zM236 517h2v2h-2zM242 517h2v2h-2zM248 517h2v2h-2zM254 517h2v2h-2zM260 517h2v2h-2zM266 517h2v2h-2zM272 517h2v2h-2zM278 517h2v2h-2zM284 517h2v2h-2zM290 517h2v2h-2zM296 517h2v2h-2zM302 517h2v2h-2zM308 517h2v2h-2zM314 517h2v2h-2zM320 517h2v2h-2zM326 517h2v2h-2zM332 517h2v2h-2zM338 517h2v2h-2zM344 517h2v2h-2zM350 517h2v2h-2zM356 517h2v2h-2zM362 517h2v2h-2zM368 517h2v2h-2zM374 517h2v2h-2zM380 517h2v2h-2zM386 517h2v2h-2zM392 517h2v2h-2zM398 517h2v2h-2zM404 517h2v2h-2zM410 517h2v2h-2zM416 517h2v2h-2zM422 517h2v2h-2zM428 517h2v2h-2zM434 517h2v2h-2zM440 517h2v2h-2zM446 517h2v2h-2zM452 517h2v2h-2zM458 517h2v2h-2zM464 517h2v2h-2zM470 517h2v2h-2zM476 517h2v2h-2zM482 517h2v2h-2zM488 517h2v2h-2zM494 517h2v2h-2zM500 517h2v2h-2zM506 517h2v2h-2zM512 517h2v2h-2zM518 517h2v2h-2zM524 517h2v2h-2zM530 517h2v2h-2zM536 517h2v2h-2zM542 517h2v2h-2zM548 517h2v2h-2zM554 517h2v2h-2zM560 517h2v2h-2zM566 517h2v2h-2zM572 517h2v2h-2zM578 517h2v2h-2zM584 517h2v2h-2zM590 517h2v2h-2zM596 517h2v2h-2zM602 517h2v2h-2zM608 517h2v2h-2zM614 517h2v2h-2zM620 517h2v2h-2zM626 517h2v2h-2zM632 517h2v2h-2zM638 517h2v2h-2zM644 517h2v2h-2zM650 517h2v2h-2zM656 517h2v2h-2zM662 517h2v2h-2zM668 517h2v2h-2zM674 517h2v2h-2zM680 517h2v2h-2zM686 517h2v2h-2zM692 517h2v2h-2zM698 517h2v2h-2zM704 517h2v2h-2zM710 517h2v2h-2zM716 517h2v2h-2zM722 517h2v2h-2zM728 517h2v2h-2zM734 517h2v2h-2zM740 517h2v2h-2zM746 517h2v2h-2zM752 517h2v2h-2zM758 517h2v2h-2zM764 517h2v2h-2zM770 517h2v2h-2zM776 517h2v2h-2zM782 517h2v2h-2zM788 517h2v2h-2zM794 517h2v2h-2zM800 517h2v2h-2zM806 517h2v2h-2zM812 517h2v2h-2zM818 517h2v2h-2zM824 517h2v2h-2zM830 517h2v2h-2zM836 517h2v2h-2zM842 517h2v2h-2zM848 517h2v2h-2zM854 517h2v2h-2zM860 517h2v2h-2zM866 517h2v2h-2zM872 517h2v2h-2zM878 517h2v2h-2zM884 517h2v2h-2zM890 517h2v2h-2zM896 517h2v2h-2zM902 517h2v2h-2zM908 517h2v2h-2zM914 517h2v2h-2zM920 517h2v2h-2zM926 517h2v2h-2zM932 517h2v2h-2zM938 517h2v2h-2zM944 517h2v2h-2zM950 517h2v2h-2zM956 517h2v2h-2zM962 517h2v2h-2zM968 517h2v2h-2zM974 517h2v2h-2zM980 517h2v2h-2zM986 517h2v2h-2zM992 517h2v2h-2zM998 517h2v2h-2zM1004 517h2v2h-2zM1010 517h2v2h-2zM1016 517h2v2h-2zM1022 517h2v2h-2zM1028 517h2v2h-2zM1034 517h2v2h-2zM1040 517h2v2h-2zM1046 517h2v2h-2zM1052 517h2v2h-2zM1058 517h2v2h-2zM1064 517h2v2h-2zM1070 517h2v2h-2zM1076 517h2v2h-2zM1082 517h2v2h-2zM1088 517h2v2h-2zM1094 517h2v2h-2zM1100 517h2v2h-2zM1106 517h2v2h-2zM1112 517h2v2h-2zM1118 517h2v2h-2zM1124 517h2v2h-2zM1130 517h2v2h-2zM1136 517h2v2h-2zM1142 517h2v2h-2zM1148 517h2v2h-2zM1154 517h2v2h-2zM1160 517h2v2h-2zM1166 517h2v2h-2zM1172 517h2v2h-2zM1178 517h2v2h-2zM1184 517h2v2h-2zM1190 517h2v2h-2zM1196 517h2v2h-2zM1202 517h2v2h-2zM1208 517h2v2h-2zM1214 517h2v2h-2zM1220 517h2v2h-2zM1226 517h2v2h-2zM1232 517h2v2h-2zM1238 517h2v2h-2zM1244 517h2v2h-2zM1250 517h2v2h-2zM1256 517h2v2h-2zM1262 517h2v2h-2zM1268 517h2v2h-2zM1274 517h2v2h-2zM1280 517h2v2h-2zM1286 517h2v2h-2zM1292 517h2v2h-2zM1298 517h2v2h-2zM1304 517h2v2h-2zM1310 517h2v2h-2zM1316 517h2v2h-2zM1322 517h2v2h-2zM1328 517h2v2h-2zM1334 517h2v2h-2zM1340 517h2v2h-2zM1346 517h2v2h-2zM1352 517h2v2h-2zM1358 517h2v2h-2zM1364 517h2v2h-2zM1370 517h2v2h-2zM1376 517h2v2h-2zM1382 517h2v2h-2zM1388 517h2v2h-2zM1394 517h2v2h-2zM1400 517h2v2h-2zM1406 517h2v2h-2zM1412 517h2v2h-2zM1418 517h2v2h-2zM1424 517h2v2h-2zM1430 517h2v2h-2zM1436 517h2v2h-2zM1442 517h2v2h-2zM1448 517h2v2h-2zM1454 517h2v2h-2zM1460 517h2v2h-2zM1466 517h2v2h-2zM1472 517h2v2h-2zM1478 517h2v2h-2zM1484 517h2v2h-2zM1490 517h2v2h-2zM1496 517h2v2h-2zM1502 517h2v2h-2zM1508 517h2v2h-2zM1514 517h2v2h-2zM1520 517h2v2h-2zM1526 517h2v2h-2zM1532 517h2v2h-2zM1538 517h2v2h-2zM1544 517h2v2h-2zM1550 517h2v2h-2zM1556 517h2v2h-2zM1562 517h2v2h-2zM1568 517h2v2h-2zM1574 517h2v2h-2zM1580 517h2v2h-2zM1586 517h2v2h-2zM1592 517h2v2h-2zM1598 517h2v2h-2zM1604 517h2v2h-2zM1610 517h2v2h-2zM1616 517h2v2h-2zM1622 517h2v2h-2zM1628 517h2v2h-2zM1634 517h2v2h-2zM1640 517h2v2h-2zM1646 517h2v2h-2zM1652 517h2v2h-2zM1658 517h2v2h-2zM1664 517h2v2h-2zM1670 517h2v2h-2zM1676 517h2v2h-2zM1682 517h2v2h-2zM1688 517h2v2h-2zM1694 517h2v2h-2zM1700 517h2v2h-2zM1706 517h2v2h-2zM1712 517h2v2h-2zM1718 517h2v2h-2zM1724 517h2v2h-2zM1730 517h2v2h-2zM1736 517h2v2h-2zM1742 517h2v2h-2zM1748 517h2v2h-2zM1754 517h2v2h-2zM1760 517h2v2h-2zM1766 517h2v2h-2zM1772 517h2v2h-2zM1778 517h2v2h-2zM1784 517h2v2h-2zM1790 517h2v2h-2zM1796 517h2v2h-2zM1802 517h2v2h-2zM1808 517h2v2h-2zM1814 517h2v2h-2zM1820 517h2v2h-2zM1826 517h2v2h-2zM1832 517h2v2h-2zM1838 517h2v2h-2zM1844 517h2v2h-2zM1850 517h2v2h-2zM1856 517h2v2h-2zM1862 517h2v2h-2zM1868 517h2v2h-2zM1874 517h2v2h-2zM1880 517h2v2h-2zM1886 517h2v2h-2zM1892 517h2v2h-2zM1898 517h2v2h-2zM1904 517h2v2h-2zM1910 517h2v2h-2zM1916 517h2v2h-2zM1922 517h2v2h-2zM1928 517h2v2h-2zM1934 517h2v2h-2zM1940 517h2v2h-2zM1946 517h2v2h-2zM1952 517h2v2h-2zM1958 517h2v2h-2zM1964 517h2v2h-2zM1970 517h2v2h-2zM1976 517h2v2h-2zM1982 517h2v2h-2zM1988 517h2v2h-2zM1994 517h2v2h-2zM2000 517h2v2h-2zM2006 517h2v2h-2zM2012 517h2v2h-2zM2018 517h2v2h-2zM2024 517h2v2h-2zM2030 517h2v2h-2zM2036 517h2v2h-2zM2042 517h2v2h-2zM2048 517h2v2h-2zM2054 517h2v2h-2zM2060 517h2v2h-2zM2066 517h2v2h-2zM2072 517h2v2h-2zM2078 517h2v2h-2zM2084 517h2v2h-2zM2090 517h2v2h-2zM2096 517h2v2h-2zM2102 517h2v2h-2zM2108 517h2v2h-2zM2114 517h2v2h-2zM2120 517h2v2h-2zM2126 517h2v2h-2zM2132 517h2v2h-2zM2138 517h2v2h-2zM2144 517h2v2h-2zM2150 517h2v2h-2zM2156 517h2v2h-2zM2162 517h2v2h-2zM2168 517h2v2h-2zM2174 517h2v2h-2zM2180 517h2v2h-2zM2186 517h2v2h-2zM2192 517h2v2h-2zM2198 517h2v2h-2zM2204 517h2v2h-2zM2210 517h2v2h-2zM2216 517h2v2h-2zM2222 517h2v2h-2zM2228 517h2v2h-2zM2234 517h2v2h-2zM2240 517h2v2h-2zM2246 517h2v2h-2zM2252 517h2v2h-2zM2258 517h2v2h-2zM2264 517h2v2h-2zM2270 517h2v2h-2zM2276 517h2v2h-2zM2282 517h2v2h-2zM2288 517h2v2h-2zM2294 517h2v2h-2zM2300 517h2v2h-2zM2306 517h2v2h-2zM2312 517h2v2h-2zM2318 517h2v2h-2zM2324 517h2v2h-2zM2330 517h2v2h-2zM2336 517h2v2h-2zM2342 517h2v2h-2zM2348 517h2v2h-2zM2354 517h2v2h-2zM2360 517h2v2h-2zM2366 517h2v2h-2zM2372 517h2v2h-2zM2378 517h2v2h-2zM2384 517h2v2h-2zM2390 517h2v2h-2zM2396 517h2v2h-2zM2402 517h2v2h-2zM2408 517h2v2h-2zM2414 517h2v2h-2zM2420 517h2v2h-2zM2426 517h2v2h-2zM2432 517h2v2h-2zM2438 517h2v2h-2zM2444 517h2v2h-2zM2450 517h2v2h-2zM2456 517h2v2h-2zM2462 517h2v2h-2zM2468 517h2v2h-2zM2474 517h2v2h-2zM2480 517h2v2h-2zM2486 517h2v2h-2zM2492 517h2v2h-2zM2498 517h2v2h-2zM2504 517h2v2h-2zM2510 517h2v2h-2zM2516 517h2v2h-2zM2522 517h2v2h-2zM2528 517h2v2h-2zM2534 517h2v2h-2zM2540 517h2v2h-2zM2546 517h2v2h-2zM2552 517h2v2h-2zM2558 517h2v2h-2zM2564 517h2v2h-2z"/>
</g>
<path fill="#f2f2f2" d="M19 53H2691V1271H19zM21 55V1269H2689V55z" fill-rule="evenodd"/>
<path fill="#e0e3eb" d="M21 1146H2689v2H21z"/>
<path fill="#e0e3eb" d="M21 1214H2566v2H21zM2568 1214H2689v2H2568z"/>
</g>
<path fill="#43a947" d="M2568 350H2662a4 4 0 0 1 4 4V380a4 4 0 0 1 -4 4H2568z"/>
<path fill="#4caf50" d="M2569 351H2662a3 3 0 0 1 3 3V380a3 3 0 0 1 -3 3H2569z"/>
<path fill="#089981" d="M2568 501H2662a4 4 0 0 1 4 4V559a4 4 0 0 1 -4 4H2568z"/>
<path fill="#2e2e2e" d="M2568 563H2662a4 4 0 0 1 4 4V593a4 4 0 0 1 -4 4H2568z"/>
<path fill="#0a46ff" d="M2568 1103H2676a4 4 0 0 1 4 4V1133a4 4 0 0 1 -4 4H2568z"/>
<path fill="#2962ff" d="M2569 1104H2676a3 3 0 0 1 3 3V1133a3 3 0 0 1 -3 3H2569z"/>
<rect x="2574.5" y="62.5" width="107" height="51" rx="8" ry="8" fill="#fff" stroke="#f2f2f2" stroke-width="1.5"/>
<g style="will-change:transform">
<text x="19.42" y="38.50" font-size="23.2" fill="#131722" textLength="213.89" lengthAdjust="spacingAndGlyphs" stroke="#131722" stroke-width="0.25" xml:space="preserve">OtterBiraajCharting</text>
<text x="238.63" y="38.50" font-size="23.2" fill="#131722" textLength="104.24" lengthAdjust="spacingAndGlyphs" stroke="#131722" stroke-width="0.25" xml:space="preserve">published</text>
<text x="348.98" y="38.50" font-size="23.2" fill="#131722" textLength="27.00" lengthAdjust="spacingAndGlyphs" stroke="#131722" stroke-width="0.25" xml:space="preserve">on</text>
<text x="382.87" y="38.50" font-size="23.2" fill="#131722" textLength="190.17" lengthAdjust="spacingAndGlyphs" stroke="#131722" stroke-width="0.25" xml:space="preserve">TradingView.com,</text>
<text x="580.13" y="38.50" font-size="23.2" fill="#131722" textLength="38.31" lengthAdjust="spacingAndGlyphs" stroke="#131722" stroke-width="0.25" xml:space="preserve">Jun</text>
<text x="624.34" y="38.50" font-size="23.2" fill="#131722" textLength="34.81" lengthAdjust="spacingAndGlyphs" stroke="#131722" stroke-width="0.25" xml:space="preserve">27,</text>
<text x="665.16" y="38.50" font-size="23.2" fill="#131722" textLength="50.49" lengthAdjust="spacingAndGlyphs" stroke="#131722" stroke-width="0.25" xml:space="preserve">2025</text>
<text x="724.14" y="38.50" font-size="23.2" fill="#131722" textLength="57.82" lengthAdjust="spacingAndGlyphs" stroke="#131722" stroke-width="0.25" xml:space="preserve">12:17</text>
<text x="788.99" y="38.50" font-size="23.2" fill="#131722" textLength="45.45" lengthAdjust="spacingAndGlyphs" stroke="#131722" stroke-width="0.25" xml:space="preserve">UTC</text>
<text x="35.45" y="92.70" font-size="23" fill="#131722" textLength="41.31" lengthAdjust="spacingAndGlyphs" stroke="#131722" stroke-width="0.25" xml:space="preserve">XRP</text>
<text x="103.49" y="92.70" font-size="23" fill="#131722" textLength="96.95" lengthAdjust="spacingAndGlyphs" stroke="#131722" stroke-width="0.25" xml:space="preserve">TetherUS</text>
<text x="221.30" y="92.70" font-size="23" fill="#131722" textLength="33.48" lengthAdjust="spacingAndGlyphs" stroke="#131722" stroke-width="0.25" xml:space="preserve">1W</text>
<text x="278.88" y="92.70" font-size="23" fill="#131722" textLength="93.02" lengthAdjust="spacingAndGlyphs" stroke="#131722" stroke-width="0.25" xml:space="preserve">BINANCE</text>
<text x="385.79" y="92.70" font-size="23" fill="#131722" textLength="16.52" lengthAdjust="spacingAndGlyphs" stroke="#131722" stroke-width="0.25" xml:space="preserve">O</text>
<text x="402.03" y="92.70" font-size="23" fill="#089981" textLength="71.30" lengthAdjust="spacingAndGlyphs" stroke="#089981" stroke-width="0.25" xml:space="preserve">2.0173</text>
<text x="488.45" y="92.70" font-size="23" fill="#131722" textLength="16.29" lengthAdjust="spacingAndGlyphs" stroke="#131722" stroke-width="0.25" xml:space="preserve">H</text>
<text x="503.62" y="92.70" font-size="23" fill="#089981" textLength="72.02" lengthAdjust="spacingAndGlyphs" stroke="#089981" stroke-width="0.25" xml:space="preserve">2.2296</text>
<text x="589.98" y="92.70" font-size="23" fill="#131722" textLength="12.99" lengthAdjust="spacingAndGlyphs" stroke="#131722" stroke-width="0.25" xml:space="preserve">L</text>
<text x="603.65" y="92.70" font-size="23" fill="#089981" textLength="70.11" lengthAdjust="spacingAndGlyphs" stroke="#089981" stroke-width="0.25" xml:space="preserve">1.9615</text>
<text x="688.60" y="92.70" font-size="23" fill="#131722" textLength="14.25" lengthAdjust="spacingAndGlyphs" stroke="#131722" stroke-width="0.25" xml:space="preserve">C</text>
<text x="703.32" y="92.70" font-size="23" fill="#089981" textLength="71.59" lengthAdjust="spacingAndGlyphs" stroke="#089981" stroke-width="0.25" xml:space="preserve">2.0908</text>
<text x="789.58" y="92.70" font-size="23" fill="#089981" textLength="83.22" lengthAdjust="spacingAndGlyphs" stroke="#089981" stroke-width="0.25" xml:space="preserve">+0.0736</text>
<text x="882.04" y="92.70" font-size="23" fill="#089981" textLength="89.31" lengthAdjust="spacingAndGlyphs" stroke="#089981" stroke-width="0.25" xml:space="preserve">(+3.65%)</text>
<circle cx="211.7" cy="84.7" r="1.9" fill="#131722"/><circle cx="267.9" cy="84.7" r="1.9" fill="#131722"/>
<text x="86.85" y="92.70" font-size="23" fill="#131722" textLength="7.60" lengthAdjust="spacingAndGlyphs" stroke="#131722" stroke-width="0.25" xml:space="preserve">/</text>
<text x="36.70" y="126.70" font-size="23" fill="#131722" textLength="32.19" lengthAdjust="spacingAndGlyphs" stroke="#131722" stroke-width="0.25" xml:space="preserve">Vol</text>
<circle cx="80.1" cy="118.7" r="1.9" fill="#131722"/>
<text x="91.96" y="126.70" font-size="23" fill="#131722" textLength="40.27" lengthAdjust="spacingAndGlyphs" stroke="#131722" stroke-width="0.25" xml:space="preserve">XRP</text>
<text x="147.38" y="126.70" font-size="23" fill="#26a69a" textLength="70.64" lengthAdjust="spacingAndGlyphs" stroke="#26a69a" stroke-width="0.25" xml:space="preserve">574.16</text>
<text x="220.11" y="126.70" font-size="23" fill="#26a69a" stroke="#26a69a" stroke-width="0.25" xml:space="preserve">M</text>
<text x="35.61" y="1187.20" font-size="23" fill="#131722" textLength="32.39" lengthAdjust="spacingAndGlyphs" stroke="#131722" stroke-width="0.25" xml:space="preserve">RSI</text>
<text x="75.89" y="1187.20" font-size="23" fill="#131722" textLength="42.00" lengthAdjust="spacingAndGlyphs" stroke="#131722" stroke-width="0.25" xml:space="preserve">(14,</text>
<text x="125.29" y="1187.20" font-size="23" fill="#131722" textLength="63.59" lengthAdjust="spacingAndGlyphs" stroke="#131722" stroke-width="0.25" xml:space="preserve">close)</text>
<text x="202.95" y="1187.20" font-size="23" fill="#7e57c2" textLength="59.54" lengthAdjust="spacingAndGlyphs" stroke="#7e57c2" stroke-width="0.25" xml:space="preserve">49.52</text>
<text x="277.05" y="1187.20" font-size="23" fill="#fdd835" textLength="59.58" lengthAdjust="spacingAndGlyphs" stroke="#fdd835" stroke-width="0.25" xml:space="preserve">52.19</text>
<text x="2584.00" y="144.80" font-size="23.5" fill="#131722" textLength="72.53" lengthAdjust="spacingAndGlyphs" stroke="#131722" stroke-width="0.25" xml:space="preserve">3.5000</text>
<text x="2584.00" y="280.20" font-size="23.5" fill="#131722" textLength="72.53" lengthAdjust="spacingAndGlyphs" stroke="#131722" stroke-width="0.25" xml:space="preserve">3.0000</text>
<text x="2583.70" y="415.60" font-size="23.5" fill="#131722" textLength="72.83" lengthAdjust="spacingAndGlyphs" stroke="#131722" stroke-width="0.25" xml:space="preserve">2.5000</text>
<text x="2583.07" y="686.40" font-size="23.5" fill="#131722" textLength="73.47" lengthAdjust="spacingAndGlyphs" stroke="#131722" stroke-width="0.25" xml:space="preserve">1.5000</text>
<text x="2583.07" y="821.80" font-size="23.5" fill="#131722" textLength="73.47" lengthAdjust="spacingAndGlyphs" stroke="#131722" stroke-width="0.25" xml:space="preserve">1.0000</text>
<text x="2583.97" y="957.20" font-size="23.5" fill="#131722" textLength="72.55" lengthAdjust="spacingAndGlyphs" stroke="#131722" stroke-width="0.25" xml:space="preserve">0.5000</text>
<text x="2583.97" y="1092.60" font-size="23.5" fill="#131722" textLength="72.55" lengthAdjust="spacingAndGlyphs" stroke="#131722" stroke-width="0.25" xml:space="preserve">0.0000</text>
<text x="2591.09" y="96.00" font-size="23.5" fill="#131722" textLength="56.68" lengthAdjust="spacingAndGlyphs" stroke="#131722" stroke-width="0.25" xml:space="preserve">USDT</text>
<text x="2583.14" y="376.00" font-size="23.5" fill="#fff" textLength="70.69" lengthAdjust="spacingAndGlyphs" stroke="#fff" stroke-width="0.4" xml:space="preserve">2.6461</text>
<text x="2583.70" y="526.80" font-size="23.5" fill="#fff" textLength="72.94" lengthAdjust="spacingAndGlyphs" stroke="#fff" stroke-width="0.4" xml:space="preserve">2.0908</text>
<text x="2583.74" y="554.40" font-size="23.5" fill="#fff" textLength="25.76" lengthAdjust="spacingAndGlyphs" fill-opacity="0.72" stroke-opacity="0.72" stroke="#fff" stroke-width="0.4" xml:space="preserve">2d</text>
<text x="2617.71" y="554.40" font-size="23.5" fill="#fff" textLength="39.11" lengthAdjust="spacingAndGlyphs" fill-opacity="0.72" stroke-opacity="0.72" stroke="#fff" stroke-width="0.4" xml:space="preserve">12h</text>
<text x="2583.70" y="588.00" font-size="23.5" fill="#fff" textLength="72.83" lengthAdjust="spacingAndGlyphs" stroke="#fff" stroke-width="0.4" xml:space="preserve">2.0580</text>
<text x="2583.75" y="1129.00" font-size="23.5" fill="#fff" textLength="85.08" lengthAdjust="spacingAndGlyphs" stroke="#fff" stroke-width="0.4" xml:space="preserve">−0.1326</text>
<text x="89.75" y="1250.90" font-size="23.5" fill="#131722" textLength="32.39" lengthAdjust="spacingAndGlyphs" stroke="#131722" stroke-width="0.25" xml:space="preserve">Jul</text>
<text x="257.82" y="1250.90" font-size="23.5" fill="#131722" textLength="56.32" lengthAdjust="spacingAndGlyphs" font-weight="bold" stroke="#131722" stroke-width="0.5" xml:space="preserve">2020</text>
<text x="442.45" y="1250.90" font-size="23.5" fill="#131722" textLength="32.39" lengthAdjust="spacingAndGlyphs" stroke="#131722" stroke-width="0.25" xml:space="preserve">Jul</text>
<text x="603.63" y="1250.90" font-size="23.5" fill="#131722" textLength="55.97" lengthAdjust="spacingAndGlyphs" font-weight="bold" stroke="#131722" stroke-width="0.5" xml:space="preserve">2021</text>
<text x="789.35" y="1250.90" font-size="23.5" fill="#131722" textLength="32.39" lengthAdjust="spacingAndGlyphs" stroke="#131722" stroke-width="0.25" xml:space="preserve">Jul</text>
<text x="950.52" y="1250.90" font-size="23.5" fill="#131722" textLength="56.29" lengthAdjust="spacingAndGlyphs" font-weight="bold" stroke="#131722" stroke-width="0.5" xml:space="preserve">2022</text>
<text x="1135.75" y="1250.90" font-size="23.5" fill="#131722" textLength="32.39" lengthAdjust="spacingAndGlyphs" stroke="#131722" stroke-width="0.25" xml:space="preserve">Jul</text>
<text x="1297.12" y="1250.90" font-size="23.5" fill="#131722" textLength="56.19" lengthAdjust="spacingAndGlyphs" font-weight="bold" stroke="#131722" stroke-width="0.5" xml:space="preserve">2023</text>
<text x="1482.25" y="1250.90" font-size="23.5" fill="#131722" textLength="32.39" lengthAdjust="spacingAndGlyphs" stroke="#131722" stroke-width="0.25" xml:space="preserve">Jul</text>
<text x="1643.74" y="1250.90" font-size="23.5" fill="#131722" textLength="55.40" lengthAdjust="spacingAndGlyphs" font-weight="bold" stroke="#131722" stroke-width="0.5" xml:space="preserve">2024</text>
<text x="1828.95" y="1250.90" font-size="23.5" fill="#131722" textLength="32.39" lengthAdjust="spacingAndGlyphs" stroke="#131722" stroke-width="0.25" xml:space="preserve">Jul</text>
<text x="1996.73" y="1250.90" font-size="23.5" fill="#131722" textLength="55.97" lengthAdjust="spacingAndGlyphs" font-weight="bold" stroke="#131722" stroke-width="0.5" xml:space="preserve">2025</text>
<text x="2182.15" y="1250.90" font-size="23.5" fill="#131722" textLength="32.39" lengthAdjust="spacingAndGlyphs" stroke="#131722" stroke-width="0.25" xml:space="preserve">Jul</text>
<text x="2343.02" y="1250.90" font-size="23.5" fill="#131722" textLength="56.19" lengthAdjust="spacingAndGlyphs" font-weight="bold" stroke="#131722" stroke-width="0.5" xml:space="preserve">2026</text>
<text x="2528.45" y="1250.90" font-size="23.5" fill="#131722" textLength="32.39" lengthAdjust="spacingAndGlyphs" stroke="#131722" stroke-width="0.25" xml:space="preserve">Jul</text>
<text x="2123.14" y="1053.60" font-size="31.5" fill="#f23645" textLength="99.18" lengthAdjust="spacingAndGlyphs" font-style="italic" stroke="#f23645" stroke-width="0.5" xml:space="preserve">Lowest</text>
<text x="2234.29" y="1053.60" font-size="31.5" fill="#f23645" textLength="98.58" lengthAdjust="spacingAndGlyphs" font-style="italic" stroke="#f23645" stroke-width="0.5" xml:space="preserve">weekly</text>
<text x="2343.58" y="1053.60" font-size="31.5" fill="#f23645" textLength="117.27" lengthAdjust="spacingAndGlyphs" font-style="italic" stroke="#f23645" stroke-width="0.5" xml:space="preserve">volumes</text>
<text x="2123.22" y="1085.40" font-size="31.5" fill="#f23645" textLength="72.63" lengthAdjust="spacingAndGlyphs" font-style="italic" stroke="#f23645" stroke-width="0.5" xml:space="preserve">since</text>
<text x="2205.78" y="1085.40" font-size="31.5" fill="#f23645" textLength="66.87" lengthAdjust="spacingAndGlyphs" font-style="italic" stroke="#f23645" stroke-width="0.5" xml:space="preserve">2020</text>
<g fill="#131313"><path d="M20.1 1294.3H35.6V1313.3H27.8V1301.8H20.1z"/><circle cx="42.3" cy="1298.5" r="4.3"/><path d="M49.5 1294.3H59.1L51.2 1313.3H42.3z"/></g>
<text x="65.33" y="1313.60" font-size="25.7" fill="#131313" textLength="141.01" lengthAdjust="spacingAndGlyphs" stroke="#131313" stroke-width="0.45" xml:space="preserve">TradingView</text>
</g>
</svg></body></html>
